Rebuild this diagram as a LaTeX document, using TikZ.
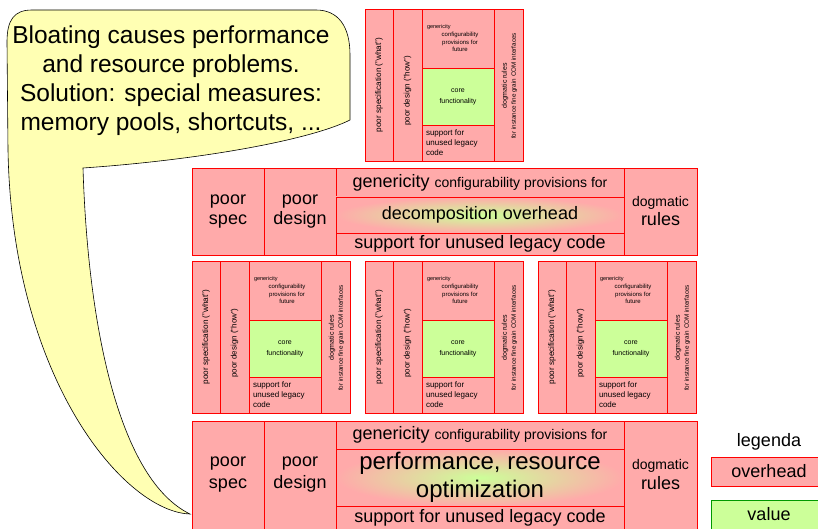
\documentclass[tikz,border=0pt]{standalone}
\usepackage{fontspec}
\setmainfont{Liberation Sans}
\usepackage{tikz}
\usetikzlibrary{shadings}

\definecolor{overhead}{HTML}{FFAAAA}
\definecolor{valuegreen}{HTML}{CCFF99}
\definecolor{valueborder}{HTML}{009900}
\definecolor{balloon}{HTML}{FFFFB3}

\newcommand{\fsz}[2]{\fontsize{#1}{#2}\selectfont}

\begin{document}
\begin{tikzpicture}[x=1pt, y=-1pt,
  cell/.style={draw=red, fill=overhead, line width=0.8pt, inner sep=0pt, outer sep=0pt, anchor=north west, align=center},
  core/.style={cell, fill=valuegreen},
  glow/.style={cell, inner color=valuegreen, outer color=overhead},
  txt/.style={inner sep=0pt, outer sep=0pt}]

  \useasboundingbox (0,0) rectangle (818,529);

  %callout
  \draw[fill=balloon, line width=0.6pt] (8,150) -- (7,42) .. controls (7,20) and (14,10) .. (32,10)
     -- (316,10) .. controls (338,10) and (350,26) .. (350,55) -- (350,120)
     .. controls (310,140) and (200,160) .. (83,168)
     .. controls (88,330) and (120,480) .. (190,514)
     .. controls (125,512) and (12,380) .. (8,150) -- cycle;
  \node[txt, align=center, font=\fsz{24.5}{29}] (balloontext) at (171,81)
     {Bloating causes performance\\and resource problems.\\Solution: special measures:\\memory pools, shortcuts, ...};

  %small blocks
  \foreach \dx/\dy/\n in {365/9/top, 192/261/left, 365/261/mid, 538/261/right}{
     \node[cell, minimum width=28, minimum height=152] (\n-spec) at (\dx,\dy) {};
     \node[txt, rotate=90, font=\fsz{8.2}{9}] (\n-spec-t) at (\dx+14,\dy+76) {poor specification ("what")};
     \node[cell, minimum width=29, minimum height=152] (\n-design) at (\dx+28,\dy) {};
     \node[txt, rotate=90, font=\fsz{8}{9}] (\n-design-t) at (\dx+42.5,\dy+82) {poor design ("how")};
     \node[cell, minimum width=72, minimum height=59] (\n-gen) at (\dx+57,\dy) {};
     \node[txt, anchor=west, font=\fsz{5.5}{7}] (\n-gen-a) at (\dx+62,\dy+18) {genericity};
     \node[txt, align=center, font=\fsz{6}{7.6}] (\n-gen-b) at (\dx+95,\dy+33) {configurability\\provisions for\\future};
     \node[core, minimum width=72, minimum height=57, font=\fsz{7}{11}] (\n-core) at (\dx+57,\dy+59) {core\\functionality};
     \node[cell, minimum width=72, minimum height=36] (\n-legacy) at (\dx+57,\dy+116) {};
     \node[txt, anchor=west, align=left, font=\fsz{8}{10}] (\n-legacy-t) at (\dx+61,\dy+134) {support for\\unused legacy\\code};
     \node[cell, minimum width=29, minimum height=152] (\n-rules) at (\dx+129,\dy) {};
     \node[txt, rotate=90, align=center, font=\fsz{6.3}{9}] (\n-rules-t) at (\dx+144.5,\dy+77)
        {{\fsz{7}{9}dogmatic rules}\\for instance fine grain COM interfaces};
  }

  %decomposition block
  \def\dx{192};
  \def\dy{168};
  \node[cell, minimum width=72, minimum height=87, font=\fsz{18}{20}] (dec-spec) at (\dx,\dy) {poor\\spec};
  \node[cell, minimum width=72, minimum height=87, font=\fsz{18}{20}] (dec-design) at (\dx+72,\dy) {poor\\design};
  \node[cell, minimum width=288, minimum height=29, font=\fsz{18}{20}] (dec-gen) at (\dx+144,\dy)
     {genericity {\fsz{14}{16}configurability provisions for}};
  \node[glow, minimum width=288, minimum height=36, font=\fsz{18}{20}] (dec-mid) at (\dx+144,\dy+29) {decomposition overhead};
  \node[cell, minimum width=288, minimum height=22, font=\fsz{18}{20}] (dec-legacy) at (\dx+144,\dy+65) {support for unused legacy code};
  \node[cell, minimum width=73, minimum height=87, font=\fsz{18}{19}] (dec-rules) at (\dx+432,\dy) {{\fsz{14}{19}dogmatic}\\rules};

  %optimization block
  \def\dx{192};
  \def\dy{421};
  \node[cell, minimum width=72, minimum height=108, font=\fsz{18}{22}] (opt-spec) at (\dx,\dy) {poor\\spec};
  \node[cell, minimum width=72, minimum height=108, font=\fsz{18}{22}] (opt-design) at (\dx+72,\dy) {poor\\design};
  \node[cell, minimum width=288, minimum height=28, font=\fsz{18}{20}] (opt-gen) at (\dx+144,\dy)
     {genericity {\fsz{14}{16}configurability provisions for}};
  \node[glow, minimum width=288, minimum height=57, font=\fsz{24}{28}] (opt-mid) at (\dx+144,\dy+28) {performance, resource\\optimization};
  \node[cell, minimum width=288, minimum height=23, font=\fsz{18}{20}] (opt-legacy) at (\dx+144,\dy+85) {support for unused legacy code};
  \node[cell, minimum width=73, minimum height=108, font=\fsz{18}{20}] (opt-rules) at (\dx+432,\dy) {{\fsz{14}{20}dogmatic}\\rules};

  %legend
  \node[txt, font=\fsz{18}{20}] (legenda) at (769,442) {legenda};
  \node[cell, minimum width=116, minimum height=29, font=\fsz{18}{20}] (leg-over) at (711,457) {overhead};
  \node[cell, fill=valuegreen, draw=valueborder, minimum width=116, minimum height=29, font=\fsz{18}{20}] (leg-value) at (711,500) {value};

\end{tikzpicture}
\end{document}
